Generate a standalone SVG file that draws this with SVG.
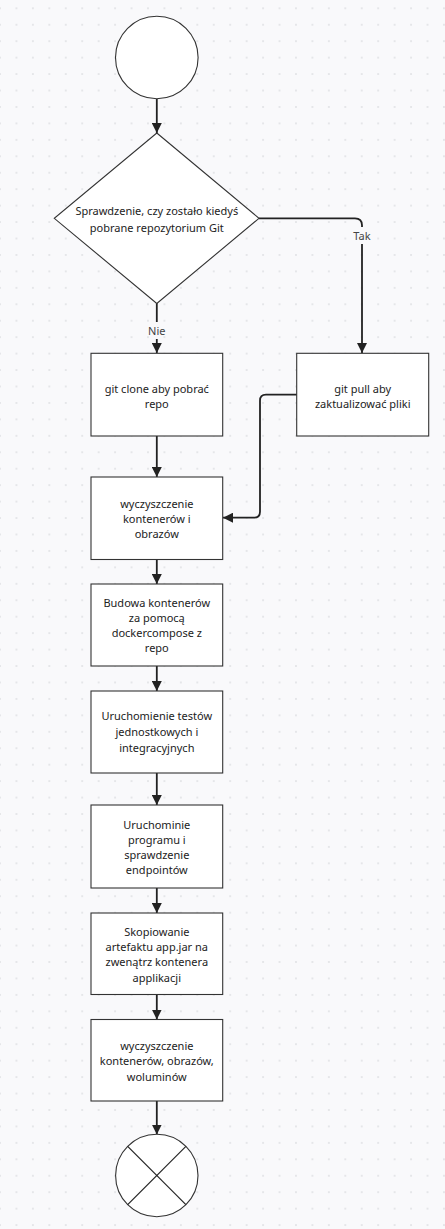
<svg xmlns="http://www.w3.org/2000/svg" width="445" height="1229" viewBox="0 0 445 1229">
  <style>
    .node { fill: #ffffff; stroke: #333333; stroke-width: 1.1; }
    .lbl { font-family: "Noto Sans", "Open Sans", sans-serif; font-size: 11px; fill: #222222; text-anchor: middle; }
    .edge-lbl { font-family: "Noto Sans", "Open Sans", sans-serif; font-size: 11px; fill: #444444; text-anchor: middle; }
    .edge { fill: none; stroke: #222222; stroke-width: 1.8; }
  </style>
  <defs>
    <pattern id="dots" x="0" y="8.3" width="16.443" height="16.443" patternUnits="userSpaceOnUse">
      <rect x="-0.8" y="-0.8" width="1.6" height="1.6" fill="#dcdde1"/>
      <rect x="15.643" y="-0.8" width="1.6" height="1.6" fill="#dcdde1"/>
      <rect x="-0.8" y="15.643" width="1.6" height="1.6" fill="#dcdde1"/>
      <rect x="15.643" y="15.643" width="1.6" height="1.6" fill="#dcdde1"/>
    </pattern>
    <marker id="arrow" viewBox="0 0 10 10" refX="10" refY="5" markerWidth="10" markerHeight="10" markerUnits="userSpaceOnUse" orient="auto">
      <path d="M0,0 L10,5 L0,10 Z" fill="#222222"/>
    </marker>
  </defs>

  <!-- canvas -->
  <rect width="445" height="1229" fill="#f9f9fb"/>
  <rect width="445" height="1229" fill="url(#dots)"/>

  <!-- connectors -->
  <g id="connectors">
    <path class="edge" d="M156.8,99 V133" marker-end="url(#arrow)"/>
    <path class="edge" d="M156.8,303 V322"/>
    <path class="edge" d="M156.8,339 V353" marker-end="url(#arrow)"/>
    <path class="edge" d="M259,218.3 H355 Q362,218.3 362,225.3 V227"/>
    <path class="edge" d="M362,244 V353" marker-end="url(#arrow)"/>
    <path class="edge" d="M297,394.7 H266 Q260,394.7 260,400.7 V511.7 Q260,517.7 254,517.7 H223" marker-end="url(#arrow)"/>
    <path class="edge" d="M156.8,436 V477" marker-end="url(#arrow)"/>
    <path class="edge" d="M156.8,559.5 V584" marker-end="url(#arrow)"/>
    <path class="edge" d="M156.8,666 V691" marker-end="url(#arrow)"/>
    <path class="edge" d="M156.8,773 V805" marker-end="url(#arrow)"/>
    <path class="edge" d="M156.8,888 V913" marker-end="url(#arrow)"/>
    <path class="edge" d="M156.8,994.5 V1019.5" marker-end="url(#arrow)"/>
    <path class="edge" d="M156.8,1101 V1134.5" marker-end="url(#arrow)"/>
    <text class="edge-lbl" x="156.8" y="334.5">Nie</text>
    <text class="edge-lbl" x="362" y="239.5">Tak</text>
  </g>

  <!-- start -->
  <g id="start">
    <circle class="node" cx="156.8" cy="57.5" r="41.3"/>
  </g>

  <!-- decision -->
  <g id="decision">
    <polygon class="node" points="156.8,133 259,218.3 156.8,303.5 54.3,218.3"/>
    <text class="lbl" x="156.8" y="214.5">Sprawdzenie, czy zostało kiedyś</text>
    <text class="lbl" x="156.8" y="231.5">pobrane repozytorium Git</text>
  </g>

  <g id="git-clone">
    <rect class="node" x="91" y="353.3" width="131.7" height="82.7"/>
    <text class="lbl" x="156.8" y="392.8">git clone aby pobrać</text>
    <text class="lbl" x="156.8" y="407.8">repo</text>
  </g>

  <g id="git-pull">
    <rect class="node" x="296.7" y="353.3" width="132" height="82.7"/>
    <text class="lbl" x="362.7" y="392.8">git pull aby</text>
    <text class="lbl" x="362.7" y="407.8">zaktualizować pliki</text>
  </g>

  <g id="clean-1">
    <rect class="node" x="91" y="477" width="131.7" height="82.5"/>
    <text class="lbl" x="156.8" y="507.5">wyczyszczenie</text>
    <text class="lbl" x="156.8" y="522.5">kontenerów i</text>
    <text class="lbl" x="156.8" y="537.5">obrazów</text>
  </g>

  <g id="build">
    <rect class="node" x="91" y="584" width="131.7" height="82"/>
    <text class="lbl" x="156.8" y="607">Budowa kontenerów</text>
    <text class="lbl" x="156.8" y="622">za pomocą</text>
    <text class="lbl" x="156.8" y="637">dockercompose z</text>
    <text class="lbl" x="156.8" y="652">repo</text>
  </g>

  <g id="tests">
    <rect class="node" x="91" y="691" width="131.7" height="82"/>
    <text class="lbl" x="156.8" y="720">Uruchomienie testów</text>
    <text class="lbl" x="156.8" y="736">jednostkowych i</text>
    <text class="lbl" x="156.8" y="752">integracyjnych</text>
  </g>

  <g id="run">
    <rect class="node" x="91" y="805" width="131.7" height="83"/>
    <text class="lbl" x="156.8" y="828.5">Uruchominie</text>
    <text class="lbl" x="156.8" y="843.5">programu i</text>
    <text class="lbl" x="156.8" y="858.5">sprawdzenie</text>
    <text class="lbl" x="156.8" y="873.5">endpointów</text>
  </g>

  <g id="copy">
    <rect class="node" x="91" y="913" width="131.7" height="81.5"/>
    <text class="lbl" x="156.8" y="936">Skopiowanie</text>
    <text class="lbl" x="156.8" y="951">artefaktu app.jar na</text>
    <text class="lbl" x="156.8" y="966">zwenątrz kontenera</text>
    <text class="lbl" x="156.8" y="981.5">applikacji</text>
  </g>

  <g id="clean-2">
    <rect class="node" x="91" y="1019.5" width="131.7" height="81.5"/>
    <text class="lbl" x="156.8" y="1050">wyczyszczenie</text>
    <text class="lbl" x="156.8" y="1065">kontenerów, obrazów,</text>
    <text class="lbl" x="156.8" y="1081">woluminów</text>
  </g>

  <!-- end -->
  <g id="end">
    <circle class="node" cx="156.8" cy="1175.5" r="41.2"/>
    <line x1="127.7" y1="1146.4" x2="185.9" y2="1204.6" stroke="#222222" stroke-width="1.2"/>
    <line x1="185.9" y1="1146.4" x2="127.7" y2="1204.6" stroke="#222222" stroke-width="1.2"/>
  </g>
</svg>
